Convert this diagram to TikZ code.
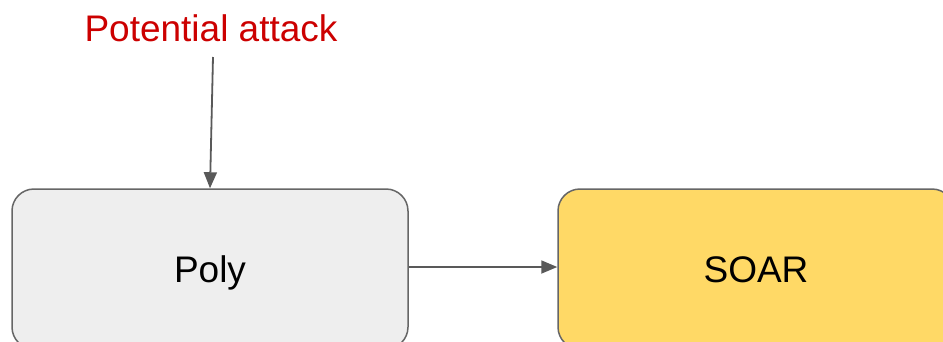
\documentclass[tikz,border=0pt]{standalone}
\usepackage{fontspec}
\setmainfont{Liberation Sans}
\usetikzlibrary{arrows.meta}
\definecolor{boxgray}{HTML}{EEEEEE}
\definecolor{boxyellow}{HTML}{FFD966}
\definecolor{edgegray}{HTML}{666666}
\definecolor{arrowgray}{HTML}{595959}
\definecolor{labelred}{HTML}{CC0000}
\begin{document}
\begin{tikzpicture}[x=1pt,y=-1pt,
  blockbox/.style={draw=edgegray,line width=1.5pt,rounded corners=22pt,
    minimum width=396pt,minimum height=160pt,inner sep=0pt,
    text height=26pt,text depth=0pt,
    font=\fontsize{37}{40}\selectfont},
  conn/.style={draw=arrowgray,line width=1.8pt,
    -{Triangle[length=16pt,width=13pt]}}]
\useasboundingbox (0,0) rectangle (943,341);
\clip (0,0) rectangle (943,341);
\fill[white] (0,0) rectangle (943,341);
\node[blockbox,fill=boxgray] (poly) at (210,269) {Poly};
\node[blockbox,fill=boxyellow] (soar) at (756,269) {SOAR};
\node[text=labelred,font=\fontsize{37}{40}\selectfont,inner sep=0pt] (attack) at (211,28) {Potential attack};
\coordinate (start) at (213,57);
\draw[conn] (start) -- (poly.north);
\draw[conn] (poly.east |- 0,267) -- (soar.west |- 0,267);
\end{tikzpicture}
\end{document}
